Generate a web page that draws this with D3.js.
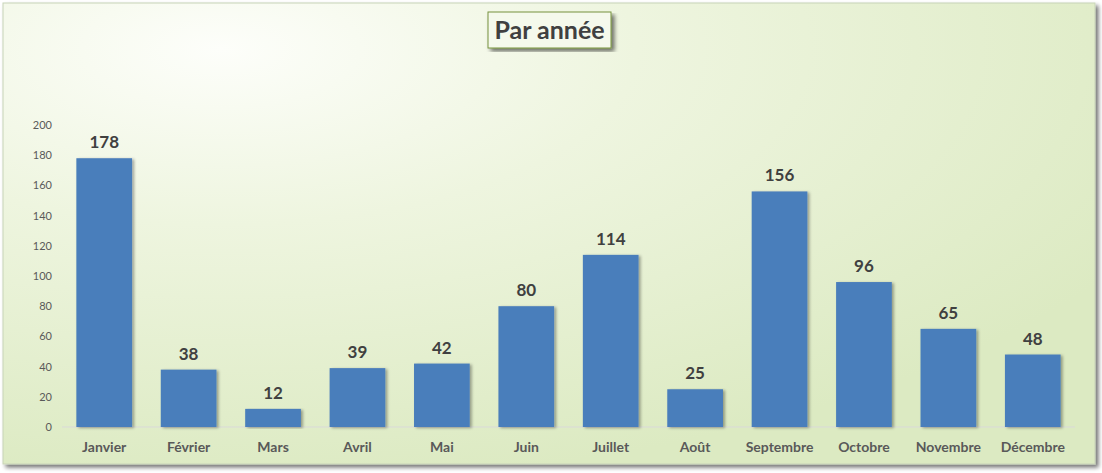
<!DOCTYPE html>
<html><head><meta charset="utf-8">
<script src="https://cdn.jsdelivr.net/npm/d3@7"></script>
<style>html,body{margin:0;padding:0;background:#fff;}svg{display:block;}</style>
</head><body>
<script>
const months = ["Janvier","Février","Mars","Avril","Mai","Juin","Juillet","Août","Septembre","Octobre","Novembre","Décembre"];
const values = [178,38,12,39,42,80,114,25,156,96,65,48];
const yTicks = [0,20,40,60,80,100,120,140,160,180,200];
const title = "Par année";

const W = 1102, H = 473;
const svg = d3.select("body").append("svg").attr("width", W).attr("height", H);
const defs = svg.append("defs");

const bg = defs.append("radialGradient").attr("id","bg")
  .attr("cx","0.2").attr("cy","0.1").attr("r","0.95").attr("gradientUnits","objectBoundingBox");
bg.append("stop").attr("offset","0").attr("stop-color","#fdfefa");
bg.append("stop").attr("offset","0.4").attr("stop-color","#eef5df");
bg.append("stop").attr("offset","1").attr("stop-color","#dceac2");

const sh = defs.append("filter").attr("id","sh").attr("x","-5%").attr("y","-5%").attr("width","115%").attr("height","115%");
sh.append("feGaussianBlur").attr("in","SourceAlpha").attr("stdDeviation",2);
sh.append("feOffset").attr("dx",3).attr("dy",3).attr("result","o");
sh.append("feComponentTransfer").append("feFuncA").attr("type","linear").attr("slope",0.55);
const m = sh.append("feMerge"); m.append("feMergeNode"); m.append("feMergeNode").attr("in","SourceGraphic");

const bsh = defs.append("filter").attr("id","bsh").attr("x","-10%").attr("y","-5%").attr("width","130%").attr("height","115%");
bsh.append("feGaussianBlur").attr("in","SourceAlpha").attr("stdDeviation",1.5);
bsh.append("feOffset").attr("dx",2).attr("dy",1).attr("result","o");
bsh.append("feComponentTransfer").append("feFuncA").attr("type","linear").attr("slope",0.35);
const m2 = bsh.append("feMerge"); m2.append("feMergeNode"); m2.append("feMergeNode").attr("in","SourceGraphic");

// chart area
svg.append("rect").attr("x",3).attr("y",3).attr("width",1092).attr("height",461)
  .attr("fill","url(#bg)").attr("stroke","#c8d3b8").attr("stroke-width",1).attr("filter","url(#sh)");

const x = d3.scaleBand().domain(months).range([62,1075]).paddingInner(0.34).paddingOuter(0.17);
const y = d3.scaleLinear().domain([0,200]).range([427,125]);

const font = "Lato, 'Open Sans', sans-serif";

// y axis labels
const ya = svg.append("g").attr("transform","translate(52,0)")
  .call(d3.axisLeft(y).tickValues(yTicks).tickSize(0).tickPadding(0));
ya.select(".domain").remove();
ya.selectAll("text").attr("font-family",font).attr("font-size",11).attr("fill","#595959");

// baseline
svg.append("line").attr("x1",62).attr("x2",1075).attr("y1",y(0)).attr("y2",y(0))
  .attr("stroke","#d9d9d9").attr("stroke-width",1);

// bars
svg.append("g").selectAll("rect").data(values).join("rect")
  .attr("x",(d,i)=>x(months[i])).attr("width",x.bandwidth())
  .attr("y",d=>y(d)).attr("height",d=>y(0)-y(d))
  .attr("fill","#4a7ebb").attr("filter","url(#bsh)");

// value labels
svg.append("g").selectAll("text").data(values).join("text")
  .attr("x",(d,i)=>x(months[i])+x.bandwidth()/2).attr("y",d=>y(d)-10)
  .attr("text-anchor","middle").attr("font-family",font).attr("font-weight","bold")
  .attr("font-size",17).attr("fill","#404040").text(d=>d);

// x axis
const xa = svg.append("g").attr("transform",`translate(0,${y(0)})`)
  .call(d3.axisBottom(x).tickSize(0).tickPadding(15));
xa.select(".domain").remove();
xa.selectAll("text").attr("font-family",font).attr("font-weight","bold").attr("font-size",14).attr("fill","#595959");

// title
svg.append("rect").attr("x",488).attr("y",12).attr("width",123).attr("height",36)
  .attr("fill","#f5f9ec").attr("stroke","#76923c").attr("stroke-width",1).attr("filter","url(#sh)");
svg.append("text").attr("x",549.5).attr("y",39).attr("text-anchor","middle")
  .attr("font-family",font).attr("font-weight","bold").attr("font-size",25).attr("fill","#404040").text(title);
</script>
</body></html>
